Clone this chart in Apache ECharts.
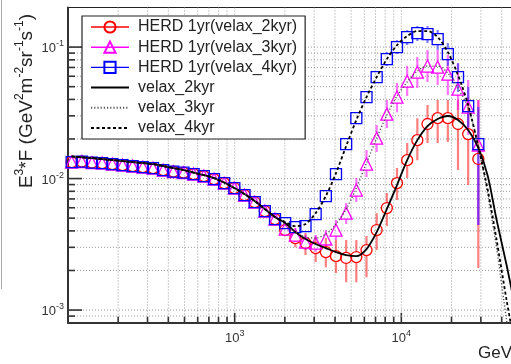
<!DOCTYPE html>
<html><head><meta charset="utf-8">
<script src="https://cdn.jsdelivr.net/npm/echarts/dist/echarts.min.js"></script>
<style>html,body{margin:0;padding:0;background:#fff}#c{width:511px;height:364px}</style>
</head><body><div id="c"></div>
<script>
// ---- data ----
const energy = [105.2, 121.1, 139.3, 160.3, 184.5, 212.3, 244.3, 281.2, 323.6, 372.4, 428.5, 493.2, 567.5, 653.1, 751.6, 865.0, 995.4, 1145.5, 1318.3, 1517.1, 1745.9, 2009.1, 2312.1, 2660.7, 3062.0, 3523.7, 4055.1, 4666.6, 5370.3, 6180.2, 7112.2, 8184.6, 9418.8, 10839, 12474, 14355, 16520, 19011, 21878, 25177, 28973];
const herd2 = [0.01335, 0.01347, 0.01323, 0.01312, 0.01289, 0.01267, 0.01245, 0.01224, 0.01202, 0.01161, 0.01130, 0.01110, 0.01082, 0.01045, 0.00991, 0.00924, 0.00847, 0.00749, 0.00663, 0.00566, 0.00492,
  0.00406, 0.00353, 0.00323, 0.00296, 0.00276, 0.00257, 0.00249, 0.00253, 0.00286, 0.00406, 0.00597, 0.00924, 0.0138, 0.0196, 0.0260, 0.0288, 0.0288, 0.0260, 0.0218, 0.0141];
const herd3 = [0.01335, 0.01347, 0.01323, 0.01312, 0.01289, 0.01267, 0.01245, 0.01224, 0.01202, 0.01161, 0.01130, 0.01110, 0.01082, 0.01045, 0.00991, 0.00924, 0.00847, 0.00749, 0.00663, 0.00566, 0.00492,
  0.00413, 0.00372, 0.00329, 0.00323, 0.00347, 0.00406, 0.00546, 0.00818, 0.01289, 0.0203, 0.0309, 0.0417, 0.0551, 0.0645, 0.0717, 0.0705, 0.0623, 0.0479, 0.0350, 0.0180];
const herd4 = [0.01335, 0.01347, 0.01323, 0.01312, 0.01289, 0.01267, 0.01245, 0.01224, 0.01202, 0.01161, 0.01130, 0.01110, 0.01082, 0.01045, 0.00991, 0.00924, 0.00847, 0.00749, 0.00663, 0.00566, 0.00492,
  0.00459, 0.00428, 0.00435, 0.00537, 0.00736, 0.01082, 0.0183, 0.0288, 0.0417, 0.0591, 0.0810, 0.1000, 0.1191, 0.1278, 0.1256, 0.1150, 0.0885, 0.0591, 0.0356, 0.0183];
// error bars, for energy index 21..40 (null: hidden inside the marker)
const err2Lo = [0.00365, 0.00301, 0.00262, 0.00232, 0.00212, 0.00191, 0.00163, 0.00163, 0.00178, 0.00286, 0.00435, 0.00686, 0.01009, 0.0138, 0.01862, 0.01862, 0.01895, 0.01161, 0.00893, 0.00209];
const err2Hi = [0.00451, 0.00406, 0.00385, 0.00359, 0.00353, 0.00341, 0.00341, 0.00341, 0.00365, 0.00546, 0.00776, 0.01202, 0.01862, 0.0288, 0.0362, 0.0395, 0.0395, 0.0395, 0.0417, 0.0395];
const err3Lo = [0.00372, 0.00329, 0.00286, 0.00276, 0.00296, 0.00341, 0.00451, 0.00663, 0.01027, 0.0159, 0.0242, 0.0320, 0.0424, 0.0488, 0.0542, 0.0514, 0.0432, 0.0332, 0.0214, 0.00443];
const err3Hi = [0.00459, 0.00420, 0.00372, 0.00372, 0.00406, 0.00484, 0.00651, 0.01009, 0.01647, 0.0255, 0.0395, 0.0532, 0.0717, 0.0840, 0.0949, 0.0949, 0.0869, 0.0755, 0.0561, 0.0395];
const err4Lo = [null, null, null, null, null, null, null, null, null, null, 0.0717, 0.0885, 0.1036, 0.1111, 0.1073, 0.0949, 0.0717, 0.0455, 0.0246, 0.00443];
const err4Hi = [null, null, null, null, null, null, null, null, null, null, 0.0916, 0.1130, 0.1347, 0.1444, 0.1444, 0.1347, 0.1073, 0.0755, 0.0497, 0.0350];
const errStart = 21;

const modelE = [105.2, 121.1, 139.3, 160.3, 184.5, 212.3, 244.3, 281.2, 323.6, 372.4, 428.5, 493.2, 567.5, 653.1, 751.6, 865.0, 995.4, 1145.5, 1318.3, 1517.1, 1745.9, 2009.1, 2312.1, 2660.7, 3062.0, 3523.7, 4055.1, 4666.6, 5370.3, 6180.2, 7112.2, 8184.6, 9418.8, 10839, 12474, 14355, 16520, 19011, 21878, 25177, 28973, 33000, 37300, 42800, 47900];
const velax2 = [0.01475, 0.01450, 0.01432, 0.01407, 0.01382, 0.01359, 0.01335, 0.01312, 0.01289, 0.01245, 0.01202, 0.01161, 0.01110, 0.01063, 0.01009, 0.00933, 0.00847, 0.00762, 0.00674, 0.00586, 0.00510,
  0.00459, 0.00392, 0.00347, 0.00318, 0.00296, 0.00276, 0.00262, 0.00257, 0.00291, 0.00392, 0.00586, 0.00893, 0.0138, 0.0196, 0.0251, 0.0284, 0.0299, 0.0279, 0.0234, 0.0171,
  0.01045, 0.00484, 0.00220, 0.00109];
const velax3 = [0.01475, 0.01450, 0.01432, 0.01407, 0.01382, 0.01359, 0.01335, 0.01312, 0.01289, 0.01245, 0.01202, 0.01161, 0.01110, 0.01063, 0.01009, 0.00933, 0.00847, 0.00762, 0.00674, 0.00586, 0.00510,
  0.00443, 0.00392, 0.00359, 0.00353, 0.00378, 0.00451, 0.00586, 0.00847, 0.01312, 0.0203, 0.0304, 0.0424, 0.0542, 0.0657, 0.0717, 0.0717, 0.0634, 0.0488, 0.0344, 0.0177,
  0.00749, 0.00296, 0.00084, 0.00035];
const velax4 = [0.01475, 0.01450, 0.01432, 0.01407, 0.01382, 0.01359, 0.01335, 0.01312, 0.01289, 0.01245, 0.01202, 0.01161, 0.01110, 0.01063, 0.01009, 0.00933, 0.00847, 0.00762, 0.00674, 0.00586, 0.00510,
  0.00467, 0.00435, 0.00451, 0.00546, 0.00736, 0.01101, 0.01767, 0.0279, 0.0417, 0.0591, 0.0810, 0.1036, 0.1213, 0.1324, 0.1324, 0.1191, 0.0916, 0.0612, 0.0362, 0.0174,
  0.00818, 0.00341, 0.00119, 0.00054];

const xTicks = [200, 300, 400, 500, 600, 700, 800, 900, 1000, 2000, 3000, 4000, 5000, 6000, 7000, 8000, 9000, 10000, 20000, 30000, 40000, 50000, 60000, 70000, 80000, 90000];
const yTicks = [0.0009, 0.001, 0.002, 0.003, 0.004, 0.005, 0.006, 0.007, 0.008, 0.009, 0.01, 0.02, 0.03, 0.04, 0.05, 0.06, 0.07, 0.08, 0.09, 0.1];

const names = ['HERD 1yr(velax_2kyr)', 'HERD 1yr(velax_3kyr)', 'HERD 1yr(velax_4kyr)', 'velax_2kyr', 'velax_3kyr', 'velax_4kyr'];
const colors = ['#ff0000', '#ff00ff', '#0000ff'];
const errColors = ['rgba(255,40,40,0.6)', 'rgba(255,0,255,0.55)', 'rgba(40,40,255,0.6)'];

// ---- build ----
const X_MIN = 100, X_MAX = 100000, Y_MIN = 0.0008, Y_MAX = 0.2;
const FONT = 'Liberation Sans';
function zip(a, b) { return a.map((v, i) => [v, b[i]]); }
function isDecade(v) { const l = Math.log10(v); return Math.abs(l - Math.round(l)) < 1e-9; }
function errData(vals, lo, hi) {
  const out = [];
  lo.forEach((l, k) => { if (l != null) out.push([energy[errStart + k], vals[errStart + k], l, hi[k]]); });
  return out;
}
function errRender(color) {
  return function (params, api) {
    const x = api.value(0), y = api.value(1), lo = api.value(2), hi = api.value(3);
    const c = api.coord([x, y]), a = api.coord([x, hi]), b = api.coord([x, lo]);
    const gap = 6, ch = [];
    const st = { stroke: color, lineWidth: 2.2 };
    if (a[1] < c[1] - gap) ch.push({ type: 'line', shape: { x1: c[0], y1: a[1], x2: c[0], y2: c[1] - gap }, style: st });
    if (b[1] > c[1] + gap) ch.push({ type: 'line', shape: { x1: c[0], y1: c[1] + gap, x2: c[0], y2: b[1] }, style: st });
    return { type: 'group', children: ch };
  };
}
const gridStyle = { stroke: '#9a9a9a', lineWidth: 1, lineDash: [1, 2] };
const tickStyle = { stroke: '#333', lineWidth: 1.6 };
const noSym = { color: 'rgba(0,0,0,0)', borderColor: 'rgba(0,0,0,0)', borderWidth: 0, opacity: 0 };

const chart = echarts.init(document.getElementById('c'), null, { renderer: 'canvas' });
chart.setOption({
  animation: false,
  backgroundColor: '#fff',
  textStyle: { fontFamily: FONT },
  grid: { left: 68, top: 7.5, width: 500, height: 315.3, show: true, borderColor: '#222', borderWidth: 1, backgroundColor: 'transparent', outerBoundsMode: 'none', containLabel: false },
  xAxis: {
    type: 'log', logBase: 10, min: X_MIN, max: X_MAX,
    axisLine: { show: true, lineStyle: { color: '#333', width: 2 } },
    axisTick: { show: false }, splitLine: { show: false }, minorTick: { show: false },
    axisLabel: {
      margin: 6, color: '#333', fontSize: 13, fontFamily: FONT,
      formatter: v => (isDecade(v) && Math.round(Math.log10(v)) >= 3 && Math.round(Math.log10(v)) <= 4) ? '{b|10}{s|' + Math.round(Math.log10(v)) + '}' : '',
      rich: { b: { fontSize: 13, lineHeight: 16, verticalAlign: 'bottom', fontFamily: FONT, color: '#333' }, s: { fontSize: 9, lineHeight: 16, verticalAlign: 'top', fontFamily: FONT, color: '#333' } }
    }
  },
  yAxis: {
    type: 'log', logBase: 10, min: Y_MIN, max: Y_MAX,
    axisLine: { show: true, lineStyle: { color: '#333', width: 2 } },
    axisTick: { show: false }, splitLine: { show: false }, minorTick: { show: false },
    axisLabel: {
      margin: 4, color: '#333', fontSize: 13, fontFamily: FONT,
      formatter: v => isDecade(v) ? '{b|10}{s|' + Math.round(Math.log10(v)) + '}' : '',
      rich: { b: { fontSize: 13, lineHeight: 16, verticalAlign: 'bottom', fontFamily: FONT, color: '#333' }, s: { fontSize: 9, lineHeight: 16, verticalAlign: 'top', fontFamily: FONT, color: '#333' } }
    }
  },
  legend: {
    orient: 'vertical', left: 82, top: 16, padding: [3, 8, 3, 8], itemGap: 4.2, itemWidth: 38, itemHeight: 14,
    backgroundColor: '#fff', borderColor: '#222', borderWidth: 1.2, borderRadius: 0, selectedMode: false, z: 10,
    textStyle: { fontSize: 16, fontFamily: FONT, color: '#222', lineHeight: 16, padding: [0, 0, 0, 4] },
    data: [
      { name: names[0], lineStyle: { color: colors[0], opacity: 1, width: 1.4 } },
      { name: names[1], lineStyle: { color: colors[1], opacity: 1, width: 1.4 } },
      { name: names[2], lineStyle: { color: colors[2], opacity: 1, width: 1.4 } },
      { name: names[3], itemStyle: noSym }, { name: names[4], itemStyle: noSym }, { name: names[5], itemStyle: noSym }
    ]
  },
  graphic: [
    { type: 'line', shape: { x1: 1.5, y1: 0, x2: 1.5, y2: 289 }, style: { stroke: '#aaa', lineWidth: 1 }, silent: true },
    { type: 'text', x: 25, y: 101, rotation: Math.PI / 2, silent: true,
      style: { text: '{m|E}{s|3}{m|*F (GeV}{s|2}{m|m}{s|-2}{m|sr}{s|-1}{m|s}{s|-1}{m|)}', align: 'center', verticalAlign: 'middle', fill: '#222',
        rich: { m: { fontSize: 19, lineHeight: 22, verticalAlign: 'bottom', fontFamily: FONT, fill: '#222' }, s: { fontSize: 12, lineHeight: 22, verticalAlign: 'top', fontFamily: FONT, fill: '#222' } } } },
    { type: 'text', x: 478, y: 345, silent: true, style: { text: 'GeV', fontSize: 17, fontFamily: FONT, fill: '#222', align: 'left', verticalAlign: 'top' } }
  ],
  series: [
    { type: 'custom', name: 'xgrid', silent: true, z: 1, clip: false, data: xTicks.map(v => [v, 0.01]), encode: { x: 0, y: 1 },
      renderItem: (params, api) => {
        const cs = params.coordSys, v = api.value(0), x = api.coord([v, 0.01])[0], bottom = cs.y + cs.height;
        return { type: 'group', children: [
          { type: 'line', shape: { x1: x, y1: cs.y, x2: x, y2: bottom }, style: gridStyle },
          { type: 'line', shape: { x1: x, y1: bottom, x2: x, y2: bottom - (isDecade(v) ? 10 : 6) }, style: tickStyle } ] };
      } },
    { type: 'custom', name: 'ygrid', silent: true, z: 1, clip: false, data: yTicks.map(v => [1000, v]), encode: { x: 0, y: 1 },
      renderItem: (params, api) => {
        const cs = params.coordSys, v = api.value(1), y = api.coord([1000, v])[1];
        return { type: 'group', children: [
          { type: 'line', shape: { x1: cs.x, y1: y, x2: cs.x + cs.width, y2: y }, style: gridStyle },
          { type: 'line', shape: { x1: cs.x, y1: y, x2: cs.x + (isDecade(v) ? 14 : 7), y2: y }, style: tickStyle } ] };
      } },
    { type: 'custom', name: 'e2', silent: true, z: 2, clip: true, data: errData(herd2, err2Lo, err2Hi), encode: { x: 0, y: 1 }, renderItem: errRender(errColors[0]) },
    { type: 'custom', name: 'e3', silent: true, z: 2, clip: true, data: errData(herd3, err3Lo, err3Hi), encode: { x: 0, y: 1 }, renderItem: errRender(errColors[1]) },
    { type: 'custom', name: 'e4', silent: true, z: 2, clip: true, data: errData(herd4, err4Lo, err4Hi), encode: { x: 0, y: 1 }, renderItem: errRender(errColors[2]) },
    { type: 'line', name: names[0], data: zip(energy, herd2), symbol: 'circle', symbolSize: 11, showSymbol: true, showAllSymbol: true, z: 3,
      lineStyle: { opacity: 0 }, itemStyle: { color: 'rgba(255,255,255,0)', borderColor: colors[0], borderWidth: 1.3 }, emphasis: { disabled: true } },
    { type: 'line', name: names[1], data: zip(energy, herd3), symbol: 'triangle', symbolSize: 12, showSymbol: true, showAllSymbol: true, z: 3,
      lineStyle: { opacity: 0 }, itemStyle: { color: 'rgba(255,255,255,0)', borderColor: colors[1], borderWidth: 1.3 }, emphasis: { disabled: true } },
    { type: 'line', name: names[2], data: zip(energy, herd4), symbol: 'rect', symbolSize: 11, showSymbol: true, showAllSymbol: true, z: 3,
      lineStyle: { opacity: 0 }, itemStyle: { color: 'rgba(255,255,255,0)', borderColor: colors[2], borderWidth: 1.3 }, emphasis: { disabled: true } },
    { type: 'line', name: names[3], data: zip(modelE, velax2), symbol: 'none', smooth: 0.3, z: 4,
      lineStyle: { color: '#000', width: 1.8, type: 'solid' }, itemStyle: { color: '#000' }, emphasis: { disabled: true } },
    { type: 'line', name: names[4], data: zip(modelE, velax3), symbol: 'none', smooth: 0.3, z: 4,
      lineStyle: { color: '#555', width: 1.4, type: [1.2, 2] }, itemStyle: { color: '#555' }, emphasis: { disabled: true } },
    { type: 'line', name: names[5], data: zip(modelE, velax4), symbol: 'none', smooth: 0.3, z: 4,
      lineStyle: { color: '#000', width: 1.8, type: [3, 2.5] }, itemStyle: { color: '#000' }, emphasis: { disabled: true } }
  ]
});
</script></body></html>
